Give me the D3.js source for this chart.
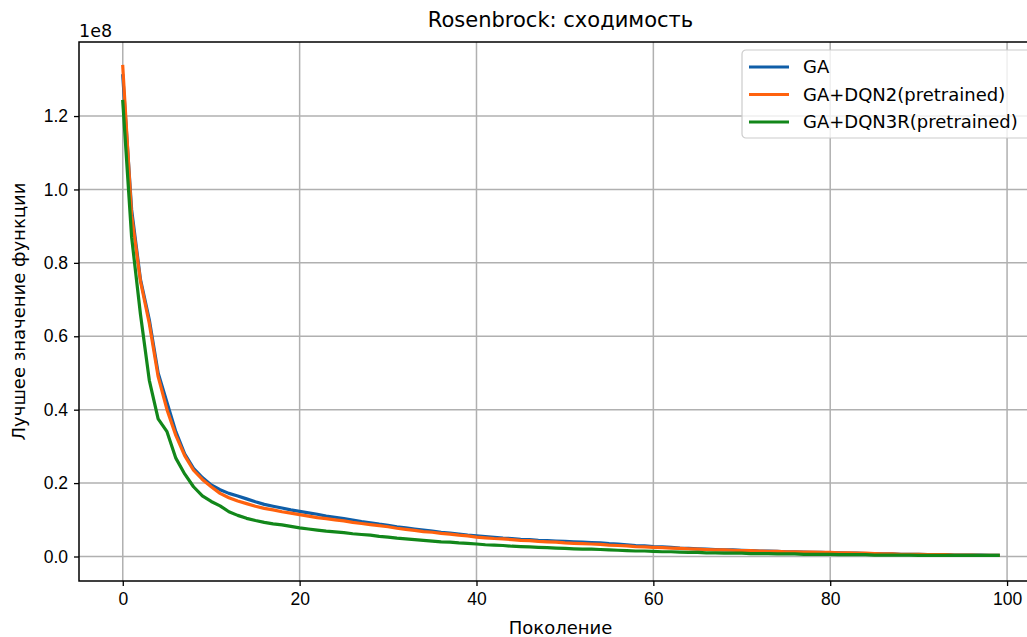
<!DOCTYPE html>
<html>
<head>
<meta charset="utf-8">
<script src="https://cdn.jsdelivr.net/npm/d3@7"></script>
<style>
  body { margin: 0; background: #fff; }
  svg { font-family: "DejaVu Sans", sans-serif; }
  .grid line { stroke: #b0b0b0; stroke-width: 1.5; }
  .axis path { display: none; }
  .axis line { stroke: #000; stroke-width: 1.3; }
  .axis text { font-size: 17.5px; fill: #000; }
</style>
</head>
<body>
<svg id="chart"></svg>
<script>
// values are in units of 1e8 (matplotlib offset label "1e8")
const generations = d3.range(100);

const seriesNames = ['GA', 'GA+DQN2(pretrained)', 'GA+DQN3R(pretrained)'];
const seriesColors = ['#0f5ea8', '#ff620e', '#12871a'];

const gaValues = [
  1.31, 0.945, 0.755, 0.645, 0.50, 0.42, 0.34, 0.28, 0.24, 0.215,
  0.195, 0.182, 0.172, 0.165, 0.157, 0.149, 0.142, 0.137, 0.132, 0.127,
  0.123, 0.119, 0.115, 0.110, 0.107, 0.103, 0.099, 0.095, 0.092, 0.088,
  0.085, 0.081, 0.078, 0.075, 0.072, 0.069, 0.066, 0.064, 0.061, 0.058,
  0.056, 0.054, 0.052, 0.050, 0.049, 0.047, 0.046, 0.044, 0.043, 0.042,
  0.041, 0.040, 0.039, 0.038, 0.037, 0.035, 0.034, 0.032, 0.030, 0.029,
  0.027, 0.026, 0.025, 0.023, 0.022, 0.021, 0.020, 0.019, 0.018, 0.018,
  0.017, 0.016, 0.015, 0.015, 0.014, 0.013, 0.013, 0.012, 0.011, 0.011,
  0.010, 0.010, 0.009, 0.009, 0.008, 0.008, 0.007, 0.007, 0.006, 0.006,
  0.006, 0.005, 0.005, 0.005, 0.004, 0.004, 0.004, 0.004, 0.003, 0.003
];

const dqn2Values = [
  1.335, 0.93, 0.75, 0.635, 0.49, 0.40, 0.33, 0.275, 0.235, 0.21,
  0.19, 0.172, 0.16, 0.151, 0.144, 0.137, 0.131, 0.127, 0.122, 0.118,
  0.114, 0.110, 0.106, 0.103, 0.100, 0.097, 0.093, 0.090, 0.087, 0.084,
  0.081, 0.077, 0.074, 0.071, 0.068, 0.066, 0.063, 0.061, 0.058, 0.056,
  0.053, 0.051, 0.049, 0.048, 0.046, 0.044, 0.043, 0.041, 0.040, 0.039,
  0.037, 0.036, 0.035, 0.034, 0.033, 0.031, 0.030, 0.029, 0.027, 0.026,
  0.025, 0.024, 0.023, 0.022, 0.021, 0.020, 0.019, 0.018, 0.018, 0.017,
  0.016, 0.016, 0.015, 0.014, 0.014, 0.013, 0.013, 0.012, 0.012, 0.011,
  0.011, 0.010, 0.010, 0.009, 0.009, 0.008, 0.007, 0.007, 0.006, 0.006,
  0.006, 0.005, 0.005, 0.005, 0.004, 0.004, 0.004, 0.003, 0.003, 0.003
];

const dqn3rValues = [
  1.24, 0.87, 0.66, 0.48, 0.375, 0.34, 0.268, 0.225, 0.19, 0.165,
  0.15, 0.138, 0.122, 0.112, 0.104, 0.098, 0.093, 0.089, 0.086, 0.082,
  0.078, 0.075, 0.072, 0.069, 0.067, 0.065, 0.062, 0.060, 0.058, 0.055,
  0.053, 0.050, 0.048, 0.046, 0.044, 0.042, 0.040, 0.039, 0.037, 0.036,
  0.034, 0.032, 0.031, 0.030, 0.028, 0.027, 0.026, 0.025, 0.024, 0.023,
  0.022, 0.021, 0.020, 0.020, 0.019, 0.018, 0.017, 0.016, 0.015, 0.015,
  0.014, 0.013, 0.013, 0.012, 0.011, 0.011, 0.010, 0.010, 0.009, 0.009,
  0.009, 0.008, 0.008, 0.008, 0.007, 0.007, 0.007, 0.006, 0.006, 0.006,
  0.006, 0.005, 0.005, 0.005, 0.005, 0.004, 0.004, 0.004, 0.004, 0.004,
  0.003, 0.003, 0.003, 0.003, 0.003, 0.003, 0.003, 0.003, 0.003, 0.003
];

const xTicks = [0, 20, 40, 60, 80, 100];
const yTicks = [0, 0.2, 0.4, 0.6, 0.8, 1.0, 1.2];

const width = 1027, height = 637;
// axes box (right spine falls just outside the picture, as in the reference)
const margin = {top: 42, left: 79, bottom: 581, right: 1042};

const svg = d3.select('#chart').attr('width', width).attr('height', height);

const allSeries = [gaValues, dqn2Values, dqn3rValues];
const yMax = d3.max(allSeries.flat());
const xPad = (generations.length - 1) * 0.05;
const yPad = yMax * 0.05;

const xScale = d3.scaleLinear()
    .domain([-xPad, generations.length - 1 + xPad])
    .range([margin.left, margin.right]);
const yScale = d3.scaleLinear()
    .domain([-yPad, yMax + yPad])
    .range([margin.bottom, margin.top]);

// grid
const grid = svg.append('g').attr('class', 'grid');
grid.selectAll('.gx').data(xTicks).join('line')
    .attr('x1', d => xScale(d)).attr('x2', d => xScale(d))
    .attr('y1', margin.top).attr('y2', margin.bottom);
grid.selectAll('.gy').data(yTicks).join('line')
    .attr('x1', margin.left).attr('x2', margin.right)
    .attr('y1', d => yScale(d)).attr('y2', d => yScale(d));

// lines
const line = d3.line()
    .x((d, i) => xScale(generations[i]))
    .y(d => yScale(d));

svg.append('g').selectAll('path')
    .data(allSeries)
  .join('path')
    .attr('d', line)
    .attr('fill', 'none')
    .attr('stroke', (d, i) => seriesColors[i])
    .attr('stroke-width', 3.2)
    .attr('stroke-linejoin', 'round')
    .attr('stroke-linecap', 'square');

// spines
svg.append('rect')
    .attr('x', margin.left).attr('y', margin.top)
    .attr('width', margin.right - margin.left)
    .attr('height', margin.bottom - margin.top)
    .attr('fill', 'none').attr('stroke', '#000').attr('stroke-width', 1.5);

// axes
const xAxis = d3.axisBottom(xScale).tickValues(xTicks).tickSize(5).tickPadding(7)
    .tickFormat(d3.format('d'));
svg.append('g').attr('class', 'axis')
    .attr('transform', `translate(0,${margin.bottom})`).call(xAxis);

const yAxis = d3.axisLeft(yScale).tickValues(yTicks).tickSize(5).tickPadding(6)
    .tickFormat(d3.format('.1f'));
svg.append('g').attr('class', 'axis')
    .attr('transform', `translate(${margin.left},0)`).call(yAxis);

// offset label
svg.append('text').attr('x', margin.left).attr('y', 37)
    .style('font-size', '17.5px').text('1e8');

// title and axis titles
const cx = (margin.left + margin.right) / 2;
svg.append('text').attr('x', cx).attr('y', 27)
    .attr('text-anchor', 'middle').style('font-size', '21px')
    .text('Rosenbrock: сходимость');
svg.append('text').attr('x', cx).attr('y', 634)
    .attr('text-anchor', 'middle').style('font-size', '18px')
    .text('Поколение');
svg.append('text')
    .attr('transform', `translate(25,${(margin.top + margin.bottom) / 2}) rotate(-90)`)
    .attr('text-anchor', 'middle').style('font-size', '18px')
    .text('Лучшее значение функции');

// legend
const legend = svg.append('g').attr('transform', 'translate(742,50)');
legend.append('rect')
    .attr('width', 300).attr('height', 88).attr('rx', 4)
    .attr('fill', '#fff').attr('fill-opacity', 0.8)
    .attr('stroke', '#cccccc').attr('stroke-width', 1.2);
const items = legend.selectAll('.item').data(seriesNames).join('g')
    .attr('transform', (d, i) => `translate(0,${17 + i * 27.5})`);
items.append('line')
    .attr('x1', 7).attr('x2', 47)
    .attr('stroke', (d, i) => seriesColors[i]).attr('stroke-width', 3.2);
items.append('text')
    .attr('x', 61).attr('dy', '0.35em')
    .style('font-size', '18px').text(d => d);
</script>
</body>
</html>
